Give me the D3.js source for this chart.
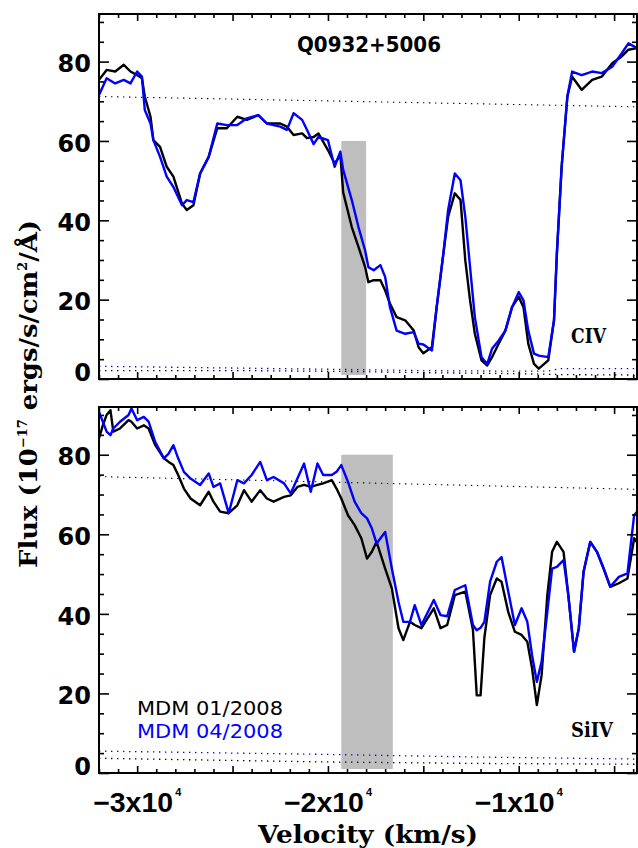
<!DOCTYPE html>
<html>
<head>
<meta charset="utf-8">
<script src="https://cdn.jsdelivr.net/npm/d3@7"></script>
<style>
  body { margin: 0; background: #fff; }
  svg { display: block; }
</style>
</head>
<body>
<div id="chart"></div>
<script>
// Q0932+5006 CIV / SiIV absorption, two MDM epochs

// CIV panel (top)
const velCIV = [-32000,-31600,-31150,-30700,-30350,-30000,-29750,-29600,-29300,-29150,-28800,-28450,-28100,-27650,-27400,-27050,-26700,-26250,-25800,-25300,-24750,-24250,-23650,-23200,-22500,-22150,-21800,-21350,-21100,-20750,-20500,-20000,-19650,-19350,-19200,-18750,-18400,-18050,-17880,-17600,-17250,-17000,-16750,-16400,-15950,-15500,-15250,-15000,-14550,-14300,-13950,-13700,-13350,-13050,-12800,-12550,-12300,-11950,-11650,-11400,-11050,-10700,-10350,-10000,-9750,-9500,-9200,-8950,-8450,-8150,-8000,-7750,-7450,-7200,-6700,-6150,-5650,-5100,-4600,-4250,-3800];
const civJan = [75.4,77.9,77.5,79.2,77.5,76.6,75.8,71.2,66.1,60.2,58.5,53.5,51,44.2,42.6,43.8,51.8,56,63.2,63.2,66.1,65.3,66.5,64.4,64.4,63.6,61.5,61.9,60.7,61,61.9,57.7,54.3,56.4,47,38.3,33.3,28.2,24.4,24.9,24.9,22.3,19,15.6,14.8,12.2,8,6.5,8,18.1,31.6,40.9,46.8,45.1,29.9,19.8,11.4,4.7,3.4,5.5,8.9,12.2,18.1,20.7,18.1,8.9,3.8,2.6,4.7,14.8,31.6,53.5,71.2,76.2,72.9,75.4,76.2,79.6,81.3,83,83.4];
const civApr = [71.6,75.8,74.5,75.4,74.5,77.5,76.2,67.8,64.4,60.2,56,51,48.4,43.8,45.1,44.6,51.8,56,64.4,64,64,65.7,66.5,64.4,63.6,62.8,67,65.3,62.8,59.2,61,60.2,53.5,57.3,52.7,45.1,38.3,32.4,28.2,27.4,28.7,25.7,18.1,12.2,11.4,11.8,8.9,8.7,7.2,18.1,31.6,42.6,51.8,50.1,40.9,28.2,15.6,5.5,3.8,7.6,9.7,12.2,18.1,21.9,19.8,12.2,6.4,5.9,5.5,14.8,31.6,53.5,71.2,77.5,76.6,77.5,77.1,78.7,82.1,84.6,83.4];

// SiIV panel (bottom)
const velSiIV = [-32000,-31800,-31600,-31400,-31250,-30900,-30450,-30300,-30000,-29650,-29400,-29050,-28600,-28350,-28100,-27850,-27550,-27200,-26700,-26250,-26000,-25650,-25200,-24750,-24400,-24000,-23550,-23200,-22850,-22300,-21950,-21600,-21250,-20900,-20550,-20250,-19800,-19550,-19300,-18950,-18600,-18250,-17950,-17700,-17450,-17000,-16650,-16300,-16050,-15700,-15450,-15100,-14450,-14100,-13750,-13350,-12800,-12400,-12200,-12000,-11800,-11500,-11150,-10900,-10550,-10200,-9850,-9550,-9300,-9050,-8800,-8500,-8250,-8000,-7650,-7400,-7100,-6850,-6600,-6250,-5900,-5550,-5200,-4750,-4300,-3950,-3800];
const siivJan = [84.1,87.4,90,91.2,85.8,86.6,88.7,88.3,86.6,87.4,86.6,82.4,79.1,78.2,77.4,74.9,71.5,69,67.3,70.7,68.2,65.7,65.3,67.3,71.1,68.2,71.1,69,68.2,69.4,69.8,71.9,72.4,71.9,72.4,72.8,73.6,71.5,69,64.8,62.3,59,53.9,55.6,58.1,51.4,46.4,36.4,33.4,38,37.2,36.4,41.4,36.4,37.2,44.7,45.6,36,19.5,19.5,34,44.7,48.9,48.1,40.5,35.5,34.7,33,26.3,17.1,24.6,44.7,55.6,58.1,55.6,44.7,30.5,36.4,50.6,58.1,55.6,51.4,46.8,47.7,48.9,59,58];
const siivApr = [90.8,88.3,85.8,84.9,86.6,88.3,90,91.6,88.7,89.5,88.3,83.2,79.1,80.3,82.4,79.1,75.7,74,72.4,75.3,71.9,72.8,65.3,73.6,72.8,74.9,78.2,73.6,74.4,72.8,70.3,74,77.8,70.7,77.8,74.9,74.9,75.7,77.4,73.2,68.2,65.3,64,61.5,57.7,60.6,51.4,43,38,38,42.2,37.2,43.5,39.7,39.4,46,47.2,37.2,35.9,36.5,38,48.1,53.1,54.3,45.6,37.2,41.4,38,29.6,22.9,28,40.5,51.4,51.8,53.5,44.7,30.5,36.4,50.6,58.1,55.6,51.4,46.8,49.3,50.2,64.8,65.7];

// continuum fits (dotted) and error spectra
const contVel = [-32000, -3800];
const contCIV = [71.2, 68.6];
const contSiIV = [74.5, 71.3];
const errVelCIV = [-32000, -24000, -19000, -15000, -11000, -8500, -7800, -3800];
const errCIVJan = [2.1, 2.1, 1.9, 1.6, 1.4, 1.2, 1.1, 1.0];
const errCIVApr = [3.2, 2.7, 2.4, 2.1, 2.0, 2.0, 2.6, 2.6];
const errVelSiIV = [-32000, -20500, -12000, -3800];
const errSiIVJan = [3.7, 2.8, 2.4, 2.2];
const errSiIVApr = [5.5, 4.7, 4.0, 3.5];

// shaded velocity windows [vmin, vmax, fluxTop]
const boxCIV = [-19300, -18000, 60];
const boxSiIV = [-19300, -16600, 80];

const xDomain = [-32000, -3800];
const yDomain = [0, 92];
const xMajor = [-30000, -25000, -20000, -15000, -10000, -5000];
const xLabelVals = [-30000, -20000, -10000];
const xLabelText = ['\u22123x10', '\u22122x10', '\u22121x10'];
const xLabelExp = '4';
const yMajor = [0, 20, 40, 60, 80];
const yLabelText = ['0', '20', '40', '60', '80'];
const legendText = ['MDM 01/2008', 'MDM 04/2008'];
const BLUE = '#0000ff';

const width = 638, height = 848;
const svg = d3.select('#chart').append('svg')
  .attr('width', width).attr('height', height);

const x = d3.scaleLinear().domain(xDomain).range([99, 637]);
const xMinor = d3.range(-32000, -3800, 1000).filter(v => !xMajor.includes(v));
const yMinor = d3.range(0, 92, 5).filter(v => !yMajor.includes(v));

function drawPanel(top, bottom, opts) {
  const y = d3.scaleLinear().domain(yDomain).range([bottom, top]);
  const g = svg.append('g');

  // grey window
  const [b0, b1, bTop] = opts.box;
  g.append('rect')
    .attr('x', x(b0)).attr('width', x(b1) - x(b0))
    .attr('y', y(bTop)).attr('height', y(1) - y(bTop))
    .attr('fill', '#bebebe');

  const line = (vel) => d3.line().x((d, i) => x(vel[i])).y(d => y(d));

  // error spectra
  g.append('path').datum(opts.errJan)
    .attr('d', line(opts.errVel))
    .attr('fill', 'none').attr('stroke', '#000').attr('stroke-width', 1.3)
    .attr('stroke-dasharray', '1.4,4.6');
  g.append('path').datum(opts.errApr)
    .attr('d', line(opts.errVel))
    .attr('fill', 'none').attr('stroke', BLUE).attr('stroke-width', 1.3)
    .attr('stroke-dasharray', '1.4,4.6');

  // continuum
  g.append('path').datum(opts.cont)
    .attr('d', line(contVel))
    .attr('fill', 'none').attr('stroke', '#000').attr('stroke-width', 1.1)
    .attr('stroke-dasharray', '1.4,4.6');

  // spectra
  g.append('path').datum(opts.jan)
    .attr('d', line(opts.vel))
    .attr('fill', 'none').attr('stroke', '#000').attr('stroke-width', 2.4)
    .attr('stroke-linejoin', 'round');
  g.append('path').datum(opts.apr)
    .attr('d', line(opts.vel))
    .attr('fill', 'none').attr('stroke', BLUE).attr('stroke-width', 2.4)
    .attr('stroke-linejoin', 'round');

  // ticks on all four sides
  const axes = [
    [d3.axisBottom(x), `translate(0,${bottom})`, xMajor, xMinor, 7, 4],
    [d3.axisTop(x), `translate(0,${top})`, xMajor, xMinor, 7, 4],
    [d3.axisLeft(y), 'translate(99,0)', yMajor, yMinor, 10, 5],
    [d3.axisRight(y), 'translate(637,0)', yMajor, yMinor, 10, 5]
  ];
  axes.forEach(([ax, tr, maj, min, lMaj, lMin]) => {
    [[maj, lMaj], [min, lMin]].forEach(([vals, len]) => {
      const a = g.append('g').attr('transform', tr)
        .call(ax.tickValues(vals).tickSize(-len).tickFormat(''));
      a.select('.domain').remove();
      a.selectAll('line').attr('stroke', '#000').attr('stroke-width', 1.6);
    });
  });

  g.append('rect')
    .attr('x', 99).attr('y', top).attr('width', 538).attr('height', bottom - top)
    .attr('fill', 'none').attr('stroke', '#000').attr('stroke-width', 2);

  // y tick labels
  g.selectAll('.ylab').data(yMajor).enter().append('text')
    .attr('x', 91)
    .attr('y', d => Math.min(y(d) + 2, bottom - 7))
    .attr('dy', '0.36em')
    .attr('text-anchor', 'end')
    .attr('font-family', 'DejaVu Sans, sans-serif')
    .attr('font-weight', 'bold').attr('font-size', 24)
    .text((d, i) => yLabelText[i]);

  g.append('text')
    .attr('x', opts.ionX).attr('y', opts.ionY)
    .attr('font-family', 'DejaVu Serif, serif').attr('font-weight', 'bold')
    .attr('font-size', 20)
    .attr('textLength', opts.ionLen).attr('lengthAdjust', 'spacingAndGlyphs')
    .text(opts.ion);
  return y;
}

drawPanel(14, 379, {
  vel: velCIV, jan: civJan, apr: civApr,
  errVel: errVelCIV, errJan: errCIVJan, errApr: errCIVApr,
  cont: contCIV, box: boxCIV,
  ion: 'CIV', ionX: 571, ionY: 343, ionLen: 35
});
drawPanel(407, 773, {
  vel: velSiIV, jan: siivJan, apr: siivApr,
  errVel: errVelSiIV, errJan: errSiIVJan, errApr: errSiIVApr,
  cont: contSiIV, box: boxSiIV,
  ion: 'SiIV', ionX: 571, ionY: 737, ionLen: 42
});

// object name
svg.append('text')
  .attr('x', 297).attr('y', 52)
  .attr('font-family', 'DejaVu Sans, sans-serif').attr('font-weight', 'bold')
  .attr('font-size', 22)
  .attr('textLength', 144).attr('lengthAdjust', 'spacingAndGlyphs')
  .text('Q0932+5006');

// legend
legendText.forEach((t, i) => {
  svg.append('text')
    .attr('x', 137).attr('y', 715 + i * 23)
    .attr('font-family', 'DejaVu Sans, sans-serif')
    .attr('font-size', 20)
    .attr('fill', i === 0 ? '#000' : BLUE)
    .attr('textLength', 146).attr('lengthAdjust', 'spacingAndGlyphs')
    .text(t);
});

// x tick labels: mantissa plus a separate exponent
xLabelVals.forEach((v, i) => {
  svg.append('text')
    .attr('x', x(v) + 36).attr('y', 812)
    .attr('text-anchor', 'end')
    .attr('font-family', 'Liberation Sans, Arial, sans-serif').attr('font-weight', 'bold')
    .attr('font-size', 27)
    .attr('textLength', 80).attr('lengthAdjust', 'spacingAndGlyphs')
    .text(xLabelText[i]);
  svg.append('text')
    .attr('x', x(v) + 38).attr('y', 796)
    .attr('font-family', 'Liberation Sans, Arial, sans-serif').attr('font-weight', 'bold')
    .attr('font-size', 11)
    .text(xLabelExp);
});

// axis titles
svg.append('text')
  .attr('x', 368).attr('y', 843)
  .attr('text-anchor', 'middle')
  .attr('font-family', 'DejaVu Serif, serif').attr('font-weight', 'bold')
  .attr('font-size', 24)
  .attr('textLength', 220).attr('lengthAdjust', 'spacingAndGlyphs')
  .text('Velocity (km/s)');

const yt = svg.append('text')
  .attr('transform', 'translate(37,394) rotate(-90)')
  .attr('text-anchor', 'middle')
  .attr('font-family', 'DejaVu Serif, serif').attr('font-weight', 'bold')
  .attr('font-size', 24)
  .attr('textLength', 348).attr('lengthAdjust', 'spacingAndGlyphs');
yt.append('tspan').text('Flux (10');
yt.append('tspan').attr('dy', -10).attr('font-size', 12).text('\u221217');
yt.append('tspan').attr('dy', 10).text(' ergs/s/cm');
yt.append('tspan').attr('dy', -10).attr('font-size', 12).text('2');
yt.append('tspan').attr('dy', 10).text('/\u00c5)');
</script>
</body>
</html>
